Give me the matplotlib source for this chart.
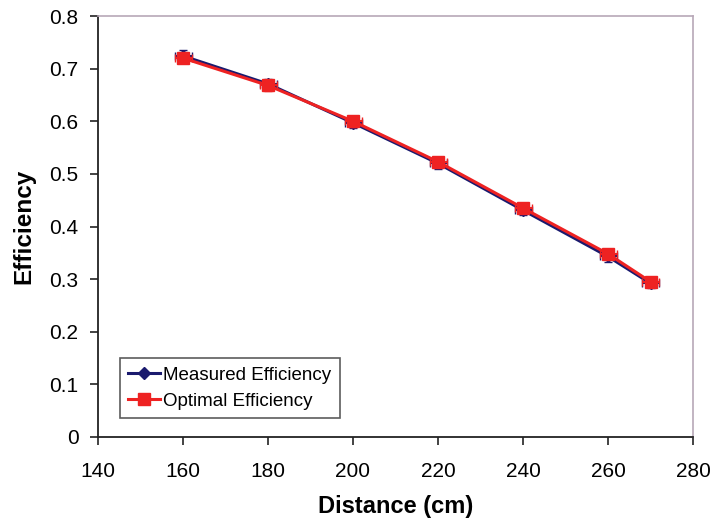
import matplotlib
matplotlib.use("Agg")
import matplotlib.pyplot as plt
from matplotlib.lines import Line2D

plt.rcParams['font.family'] = ['Liberation Sans', 'DejaVu Sans']

distance = [160, 180, 200, 220, 240, 260, 270]
measured = [0.724, 0.671, 0.597, 0.520, 0.431, 0.343, 0.292]
optimal = [0.720, 0.668, 0.600, 0.523, 0.435, 0.348, 0.295]
measured_yerr = [0.012, 0.010, 0.010, 0.010, 0.010, 0.010, 0.008]
optimal_yerr = [0.010, 0.010, 0.010, 0.010, 0.010, 0.010, 0.008]
x_err = [2, 2, 2, 2, 2, 2, 2]
x_ticks = [140, 160, 180, 200, 220, 240, 260, 280]
y_ticks = [0, 0.1, 0.2, 0.3, 0.4, 0.5, 0.6, 0.7, 0.8]
y_ticklabels = ['0', '0.1', '0.2', '0.3', '0.4', '0.5', '0.6', '0.7', '0.8']

fig = plt.figure(figsize=(7.12, 5.24), dpi=100)
ax = fig.add_axes([98/712, 1 - 437/524, (693-98)/712, (437-16)/524])

navy = '#1a1a6e'
red = '#ee2222'
ax.errorbar(distance, measured, yerr=measured_yerr, xerr=x_err, color=navy,
            marker='D', markersize=6, linewidth=2.2, capsize=3, elinewidth=1.5, zorder=3)
ax.errorbar(distance, optimal, yerr=optimal_yerr, xerr=x_err, color=red,
            marker='s', markersize=8, linewidth=2.2, capsize=3, elinewidth=1.5, zorder=4)

ax.set_xlim(140, 280)
ax.set_ylim(0, 0.8)
ax.set_xticks(x_ticks)
ax.set_yticks(y_ticks)
ax.set_yticklabels(y_ticklabels)
ax.tick_params(direction='out', length=6, width=1.2, labelsize=15, color='#222222')
ax.tick_params(axis='x', pad=12)
ax.tick_params(axis='y', pad=8)

for s in ['left', 'bottom']:
    ax.spines[s].set_color('#222222')
    ax.spines[s].set_linewidth(1.3)
for s in ['top', 'right']:
    ax.spines[s].set_color('#b8a8b8')
    ax.spines[s].set_linewidth(1.2)

ax.set_xlabel('Distance (cm)', fontsize=17, fontweight='bold', labelpad=10)
ax.set_ylabel('Efficiency', fontsize=17.5, fontweight='bold', labelpad=10)

handles = [Line2D([], [], color=navy, marker='D', markersize=6, linewidth=2.2),
           Line2D([], [], color=red, marker='s', markersize=8, linewidth=2.2)]
leg = ax.legend(handles, ['Measured Efficiency', 'Optimal Efficiency'],
                loc='lower left', bbox_to_anchor=(0.037, 0.045), fontsize=13.5,
                frameon=True, fancybox=False, edgecolor='#333333',
                handlelength=1.7, handletextpad=0.15, borderpad=0.45, labelspacing=0.45,
                borderaxespad=0)
leg.get_frame().set_linewidth(1.2)

fig.savefig('out.png', dpi=100)
